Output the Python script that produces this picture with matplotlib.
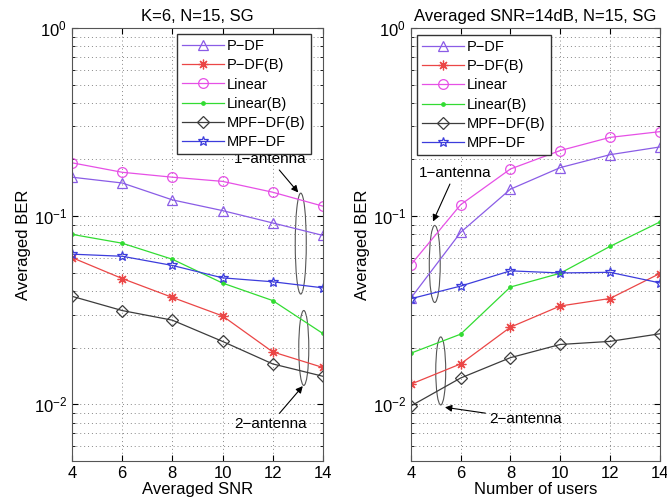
import numpy as np
import matplotlib.pyplot as plt
from matplotlib.patches import Ellipse
from matplotlib.ticker import LogLocator, NullFormatter

# x values
snr = [4, 6, 8, 10, 12, 14]
users = [4, 6, 8, 10, 12, 14]

# BER vs SNR (K=6)
snr_pdf = [0.161, 0.150, 0.122, 0.107, 0.092, 0.079]
snr_pdf_b = [0.0602, 0.0466, 0.0370, 0.0295, 0.0190, 0.0157]
snr_lin = [0.192, 0.171, 0.161, 0.153, 0.134, 0.113]
snr_lin_b = [0.080, 0.0718, 0.059, 0.0441, 0.0356, 0.0238]
snr_mpf_b = [0.0375, 0.0315, 0.028, 0.0216, 0.0164, 0.0141]
snr_mpf = [0.0628, 0.0612, 0.0547, 0.0470, 0.0448, 0.0416]

# BER vs number of users (SNR=14dB)
usr_pdf = [0.0367, 0.082, 0.139, 0.181, 0.212, 0.233]
usr_pdf_b = [0.0128, 0.0164, 0.0257, 0.0333, 0.0365, 0.0495]
usr_lin = [0.0552, 0.115, 0.178, 0.223, 0.262, 0.281]
usr_lin_b = [0.0187, 0.0236, 0.042, 0.0497, 0.069, 0.093]
usr_mpf_b = [0.0098, 0.0138, 0.0177, 0.0208, 0.0216, 0.0237]
usr_mpf = [0.0364, 0.0425, 0.0512, 0.0499, 0.0503, 0.0442]

labels = ['P\u2212DF', 'P\u2212DF(B)', 'Linear', 'Linear(B)', 'MPF\u2212DF(B)', 'MPF\u2212DF']
styles = [
    dict(color='#8a5ce6', marker='^', ms=7, mfc='none'),
    dict(color='#eb4646', marker=(8, 2, 0), ms=7, mfc='none'),
    dict(color='#e650e6', marker='o', ms=7, mfc='none'),
    dict(color='#32dc32', marker='.', ms=5),
    dict(color='#3c3c3c', marker='D', ms=6, mfc='none'),
    dict(color='#3c3cdc', marker='*', ms=7.5, mfc='none'),
]

plt.rcParams['font.family'] = ['Liberation Sans', 'DejaVu Sans']
plt.rcParams['font.size'] = 10

fig = plt.figure(figsize=(6.67, 5.03), dpi=100)
ax1 = fig.add_axes([0.108, 0.0835, 0.376, 0.861])
ax2 = fig.add_axes([0.616, 0.0835, 0.373, 0.861])


def setup(ax, x, series, xlabel, title):
    for y, lab, st in zip(series, labels, styles):
        ax.plot(x, y, lw=0.9, mew=0.9, label=lab, **st)
    ax.set_yscale('log')
    ax.set_ylim(0.005, 1)
    ax.set_xlim(4, 14)
    ax.set_xticks([4, 6, 8, 10, 12, 14])
    ax.yaxis.set_major_locator(LogLocator(base=10, numticks=10))
    ax.yaxis.set_minor_locator(LogLocator(base=10, subs=np.arange(2, 10), numticks=20))
    ax.yaxis.set_minor_formatter(NullFormatter())
    ax.grid(True, which='both', axis='y', ls=(0, (1, 3)), color='#888888', lw=0.7)
    ax.grid(True, which='major', axis='x', ls=(0, (1, 3)), color='#888888', lw=0.7)
    ax.tick_params(which='both', direction='in', top=True, right=True, labelsize=12)
    ax.tick_params(which='major', length=4)
    ax.tick_params(which='minor', length=2)
    for sp in ax.spines.values():
        sp.set_color('#555555')
        sp.set_linewidth(0.8)
    ax.set_xlabel(xlabel, fontsize=12, labelpad=1)
    ax.set_ylabel('Averaged BER', fontsize=12, labelpad=2)
    ax.set_title(title, fontsize=12, pad=5)


setup(ax1, snr, [snr_pdf, snr_pdf_b, snr_lin, snr_lin_b, snr_mpf_b, snr_mpf],
      'Averaged SNR', 'K=6, N=15, SG')
setup(ax2, users, [usr_pdf, usr_pdf_b, usr_lin, usr_lin_b, usr_mpf_b, usr_mpf],
      'Number of users', 'Averaged SNR=14dB, N=15, SG')

leg_kw = dict(fontsize=10.5, handlelength=2.9, markerscale=1.0, numpoints=1,
              fancybox=False, framealpha=1, edgecolor='#333333',
              borderpad=0.35, labelspacing=0.36, handletextpad=0.2, borderaxespad=0)
ax1.legend(loc='upper right', bbox_to_anchor=(0.952, 0.986), **leg_kw)
ax2.legend(loc='upper left', bbox_to_anchor=(0.024, 0.984), **leg_kw)

# group ellipses and their callouts
ell = dict(fill=False, ec='#555555', lw=0.8)
ax1.add_patch(Ellipse((0.912, 0.502), 0.044, 0.233, transform=ax1.transAxes, **ell))
ax1.add_patch(Ellipse((0.924, 0.261), 0.040, 0.173, transform=ax1.transAxes, **ell))
ax2.add_patch(Ellipse((0.096, 0.455), 0.044, 0.178, transform=ax2.transAxes, **ell))
ax2.add_patch(Ellipse((0.120, 0.208), 0.040, 0.157, transform=ax2.transAxes, **ell))

arr = dict(arrowstyle='-|>', color='black', lw=0.8, mutation_scale=10, shrinkA=1, shrinkB=0)
ax1.annotate('1\u2212antenna', xy=(0.902, 0.620), xytext=(0.79, 0.697),
             xycoords='axes fraction', textcoords='axes fraction',
             ha='center', va='center', fontsize=11, arrowprops=arr)
ax1.annotate('2\u2212antenna', xy=(0.92, 0.173), xytext=(0.79, 0.085),
             xycoords='axes fraction', textcoords='axes fraction',
             ha='center', va='center', fontsize=11, arrowprops=arr)
ax2.annotate('1\u2212antenna', xy=(0.089, 0.553), xytext=(0.177, 0.665),
             xycoords='axes fraction', textcoords='axes fraction',
             ha='center', va='center', fontsize=11, arrowprops=arr)
ax2.annotate('2\u2212antenna', xy=(0.137, 0.124), xytext=(0.462, 0.097),
             xycoords='axes fraction', textcoords='axes fraction',
             ha='center', va='center', fontsize=11, arrowprops=arr)

fig.savefig('out.png', dpi=100)
